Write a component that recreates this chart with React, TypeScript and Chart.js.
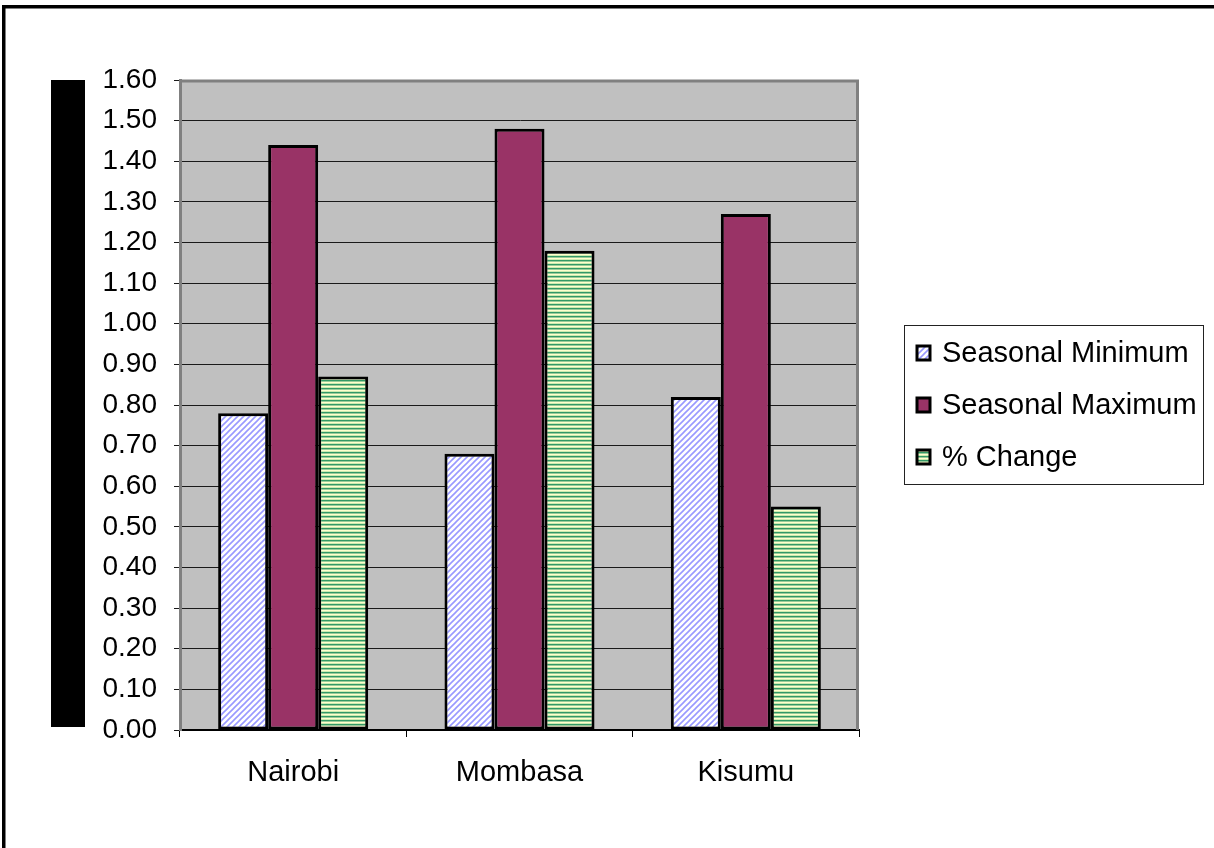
import React, { useEffect, useRef } from "react";
import { Chart, registerables } from "chart.js";

Chart.register(...registerables);

const categories = ["Nairobi", "Mombasa", "Kisumu"];
const seriesNames = ["Seasonal Minimum", "Seasonal Maximum", "% Change"];
const seasonalMinimum = [0.78, 0.68, 0.82];
const seasonalMaximum = [1.44, 1.48, 1.27];
const percentChange = [0.87, 1.18, 0.55];
const yMin = 0;
const yMax = 1.6;
const yStep = 0.1;

function hasNarrow(): boolean {
  try {
    const c = document.createElement("canvas");
    const g = c.getContext("2d");
    if (!g) return false;
    const s = "Seasonal Minimum 0.00";
    g.font = "29px monospace";
    const a = g.measureText(s).width;
    g.font = "29px 'Liberation Sans Narrow', monospace";
    const b = g.measureText(s).width;
    return Math.abs(a - b) > 1;
  } catch (e) {
    return false;
  }
}

const NARROW = hasNarrow();
const FONT = NARROW
  ? "'Liberation Sans Narrow', 'Liberation Sans', Arial, sans-serif"
  : "'Liberation Sans', Arial, Helvetica, sans-serif";
const SPACING = NARROW ? 2.6 : 0;

function applySpacing(ctx: any) {
  if (SPACING && "letterSpacing" in ctx) ctx.letterSpacing = `${SPACING}px`;
}

function makeDiagonalPattern(ctx: CanvasRenderingContext2D): CanvasPattern | string {
  const c = document.createElement("canvas");
  c.width = 6;
  c.height = 6;
  const g = c.getContext("2d");
  if (!g) return "#ccccff";
  g.fillStyle = "#ffffff";
  g.fillRect(0, 0, 6, 6);
  g.strokeStyle = "#9999ff";
  g.lineWidth = 1.6;
  g.beginPath();
  g.moveTo(-1, 7);
  g.lineTo(7, -1);
  g.moveTo(-4, 4);
  g.lineTo(4, -4);
  g.moveTo(2, 10);
  g.lineTo(10, 2);
  g.stroke();
  return ctx.createPattern(c, "repeat") || "#ccccff";
}

function makeStripePattern(ctx: CanvasRenderingContext2D): CanvasPattern | string {
  const c = document.createElement("canvas");
  c.width = 4;
  c.height = 4;
  const g = c.getContext("2d");
  if (!g) return "#99cc99";
  const rows = ["#339966", "#99cc99", "#ffffcc", "#ccebb0"];
  rows.forEach((col, i) => {
    g.fillStyle = col;
    g.fillRect(0, i, 4, 1);
  });
  return ctx.createPattern(c, "repeat") || "#99cc99";
}

const decorPlugin = {
  id: "decor",
  beforeUpdate(chart: any) {
    applySpacing(chart.ctx);
  },
  beforeLayout(chart: any) {
    applySpacing(chart.ctx);
  },
  beforeDraw(chart: any) {
    const { ctx, chartArea } = chart;
    applySpacing(ctx);
    ctx.save();
    ctx.fillStyle = "#ffffff";
    ctx.fillRect(0, 0, chart.width, chart.height);
    // outer frame (left & top visible)
    ctx.fillStyle = "#000000";
    ctx.fillRect(2, 5, 3.5, chart.height - 5);
    ctx.fillRect(2, 5, chart.width - 2, 3.5);
    // black block at the y-axis title position
    ctx.fillRect(51, chartArea.top, 34, 647);
    // plot background
    ctx.fillStyle = "#c0c0c0";
    ctx.fillRect(chartArea.left, chartArea.top, chartArea.right - chartArea.left, chartArea.bottom - chartArea.top);
    ctx.restore();
  },
  beforeDatasetsDraw(chart: any) {
    const { ctx, chartArea } = chart;
    ctx.save();
    ctx.strokeStyle = "#808080";
    ctx.lineWidth = 3;
    ctx.beginPath();
    ctx.moveTo(chartArea.left, chartArea.top + 1);
    ctx.lineTo(chartArea.right - 1.5, chartArea.top + 1);
    ctx.lineTo(chartArea.right - 1.5, chartArea.bottom);
    ctx.stroke();
    ctx.restore();
  },
  afterDraw(chart: any) {
    const { ctx } = chart;
    const boxL = 904.5;
    const boxT = 325.5;
    const boxW = 299;
    const boxH = 159;
    ctx.save();
    ctx.fillStyle = "#ffffff";
    ctx.fillRect(boxL, boxT, boxW, boxH);
    ctx.strokeStyle = "#222222";
    ctx.lineWidth = 1;
    ctx.strokeRect(boxL, boxT, boxW, boxH);
    ctx.font = `29px ${FONT}`;
    ctx.textBaseline = "middle";
    ctx.textAlign = "left";
    chart.data.datasets.forEach((ds: any, i: number) => {
      const cy = 353 + i * 52;
      ctx.fillStyle = ds.backgroundColor;
      ctx.fillRect(917, cy - 7, 13, 14);
      ctx.strokeStyle = "#000000";
      ctx.lineWidth = 3;
      ctx.strokeRect(917, cy - 7, 13, 14);
      ctx.fillStyle = "#000000";
      ctx.fillText(ds.label, 942, cy + 1);
    });
    ctx.restore();
  },
};

export default function App() {
  const ref = useRef<HTMLCanvasElement | null>(null);

  useEffect(() => {
    const canvas = ref.current;
    if (!canvas) return;
    const ctx = canvas.getContext("2d");
    if (!ctx) return;
    const fills = [makeDiagonalPattern(ctx), "#993366", makeStripePattern(ctx)];
    const values = [seasonalMinimum, seasonalMaximum, percentChange];

    const chart = new Chart(ctx, {
      type: "bar",
      data: {
        labels: categories,
        datasets: seriesNames.map((name, i) => ({
          label: name,
          data: values[i],
          backgroundColor: fills[i] as any,
          borderColor: "#000000",
          borderWidth: 3,
          borderSkipped: false,
          categoryPercentage: 0.663,
          barPercentage: 1,
        })),
      },
      options: {
        animation: false,
        responsive: false,
        maintainAspectRatio: false,
        layout: { padding: { left: 0, top: 80, right: 355, bottom: 0 } },
        plugins: {
          legend: { display: false },
          tooltip: { enabled: false },
          title: { display: false },
        },
        scales: {
          x: {
            offset: true,
            grid: {
              offset: true,
              drawOnChartArea: false,
              drawTicks: true,
              tickLength: 7,
              color: "#000000",
              lineWidth: 1,
            },
            border: { display: true, color: "#000000", width: 2 },
            ticks: {
              color: "#000000",
              padding: 19,
              font: { family: FONT, size: 29 },
              maxRotation: 0,
            },
            afterFit(scale: any) {
              scale.height = 118;
            },
          },
          y: {
            min: yMin,
            max: yMax,
            grid: {
              color: "#1a1a1a",
              lineWidth: 1,
              drawTicks: true,
              tickLength: 6,
            },
            border: { display: true, color: "#808080", width: 3 },
            ticks: {
              stepSize: yStep,
              color: "#000000",
              padding: 17 - SPACING,
              font: { family: FONT, size: 28 },
              callback: (v: any) => Number(v).toFixed(2),
            },
            afterFit(scale: any) {
              scale.width = 180;
            },
          },
        },
      },
      plugins: [decorPlugin],
    });
    return () => chart.destroy();
  }, []);

  return (
    <div style={{ position: "absolute", left: 0, top: 0, width: 1214, height: 848, background: "#ffffff" }}>
      <canvas ref={ref} width={1214} height={848} style={{ display: "block", width: 1214, height: 848 }} />
    </div>
  );
}
